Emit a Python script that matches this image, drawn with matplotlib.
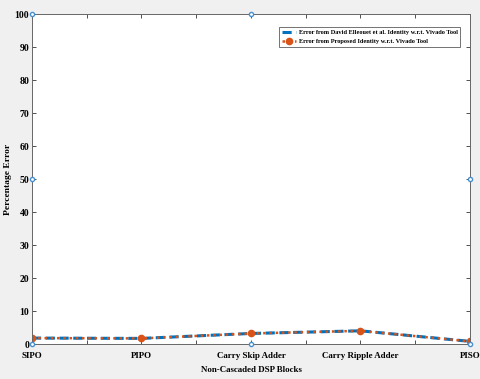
import matplotlib
matplotlib.use("Agg")
import matplotlib.pyplot as plt
import numpy as np

categories = ["SIPO", "PIPO", "Carry Skip Adder", "Carry Ripple Adder", "PISO"]
david_err = [1.8, 1.7, 3.2, 4.0, 0.8]
proposed_err = [1.8, 1.7, 3.2, 4.0, 0.8]
# stray marker points visible in the reference (category index, value)
stray_x = [0, 0, 0, 2, 2, 4, 4]
stray_y = [0, 50, 100, 0, 100, 50, 0]

plt.rcParams['font.family'] = ['Liberation Serif', 'DejaVu Serif']
plt.rcParams['font.weight'] = 'bold'

fig = plt.figure(figsize=(4.8, 3.79), dpi=100, facecolor='#f0f0f0')
ax = fig.add_axes([0.0667, 0.0923, 0.9123, 0.8707])
ax.set_facecolor('white')

x = np.arange(len(categories))
blue = '#0072bd'
orange = '#d95319'
ax.plot(x, david_err, color=blue, lw=2.2, ls=(0, (3, 1.5)),
        label='Error from David Elleouet et al. Identity w.r.t. Vivado Tool')
ax.plot(x, proposed_err, color=orange, lw=1.8, ls=(0, (1, 1.5)), marker='o',
        ms=4.5, mfc=orange, mec=orange,
        label='Error from Proposed Identity w.r.t. Vivado Tool')
ax.plot(stray_x, stray_y, ls='none', marker='o', ms=3, mfc='white',
        mec='#4a90d0', mew=1.0, clip_on=False, zorder=5)

ax.set_xlim(0, len(categories) - 1)
ax.set_ylim(0, 100)
ax.set_xticks(x)
ax.set_xticklabels(categories)
ax.set_xticks(np.arange(0.5, len(categories) - 1, 1.0), minor=True)
ax.set_yticks(np.arange(0, 101, 10))
ax.tick_params(axis='both', which='both', direction='in',
               top=True, right=True, length=3, width=0.6, color='#333333', pad=2)
ax.tick_params(axis='x', which='major', labelsize=6.4, pad=6)
ax.tick_params(axis='y', which='major', labelsize=7.0)
ax.tick_params(axis='x', which='minor', length=3)
for lab in ax.get_xticklabels() + ax.get_yticklabels():
    lab.set_fontweight('bold')
for s in ax.spines.values():
    s.set_color('#666666')
    s.set_linewidth(0.7)

ax.set_xlabel('Non-Cascaded DSP Blocks', fontsize=6.4, fontweight='bold', labelpad=4)
ax.set_ylabel('Percentage Error', fontsize=6.8, fontweight='bold')
ax.yaxis.set_label_coords(-0.046, 0.5)

leg = ax.legend(loc='upper right', fontsize=4.6, frameon=True, fancybox=False,
                edgecolor='#333333', borderpad=0.4, labelspacing=0.6,
                handlelength=2.2, handletextpad=0.4, bbox_to_anchor=(0.985, 0.97))
leg.get_frame().set_linewidth(0.6)
for t in leg.get_texts():
    t.set_fontweight('bold')

fig.savefig('out.png', dpi=100, facecolor=fig.get_facecolor())
